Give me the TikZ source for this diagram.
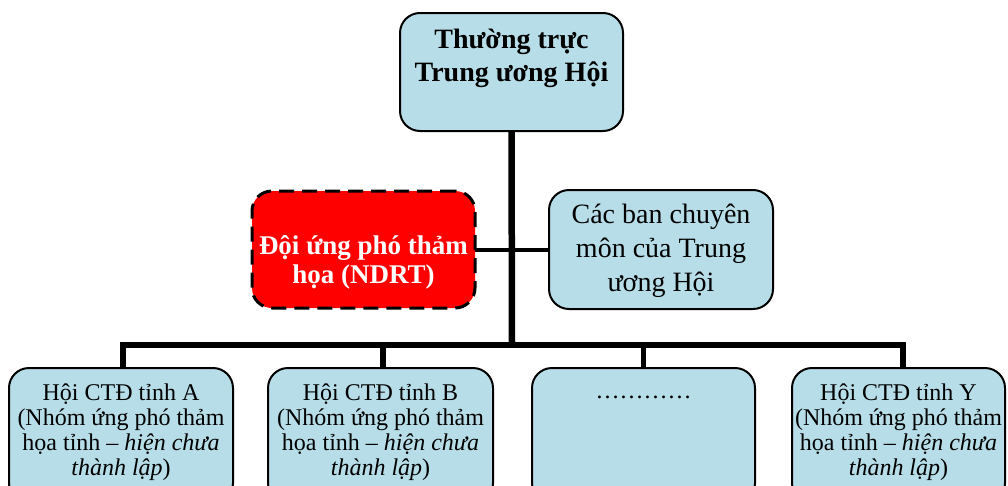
\documentclass[tikz,border=0pt]{standalone}
\usepackage{fontspec}
\setmainfont{Liberation Serif}
\usetikzlibrary{backgrounds}
\definecolor{boxblue}{HTML}{B7DEE8}
\definecolor{ndrtred}{HTML}{FF0000}
\newcommand{\boxtext}[4]{\parbox[c][#1][t]{#2}{\centering\rule{0pt}{#3}#4\par}}
\tikzset{
  x=1pt, y=-1pt,
  orgbox/.style={draw, line width=2pt, rounded corners=20pt, fill=boxblue,
    inner sep=0pt, outer sep=0pt, anchor=north west},
  ndrtbox/.style={orgbox, fill=ndrtred, line width=3pt, dash pattern=on 15pt off 8pt},
  trunkline/.style={line width=6.5pt},
  busline/.style={line width=5.5pt, line join=miter},
  sideline/.style={line width=4pt}
}
\begin{document}
\begin{tikzpicture}
\useasboundingbox (0,0) rectangle (1008,485);
\clip (0,0) rectangle (1008,485);

\node[orgbox] (top) at (400,13) {\boxtext{118pt}{223pt}{35pt}{\fontsize{28}{33}\selectfont\bfseries Thường trực\\Trung ương Hội}};

\node[ndrtbox] (ndrt) at (252,191) {\boxtext{117pt}{223pt}{63pt}{\color{white}\fontsize{27}{29}\selectfont\bfseries Đội ứng phó thảm\\họa (NDRT)}};

\node[orgbox] (ban) at (549,190) {\boxtext{119pt}{224pt}{33pt}{\fontsize{28}{34}\selectfont Các ban chuyên\\môn của Trung\\ương Hội}};

\node[orgbox] (A) at (9,368) {\boxtext{135pt}{224pt}{32pt}{\fontsize{24}{25}\selectfont Hội CTĐ tỉnh A\\(Nhóm ứng phó thảm\\họa tỉnh – \textit{hiện chưa}\\\textit{thành lập})}};

\node[orgbox] (B) at (268,368) {\boxtext{135pt}{225pt}{32pt}{\fontsize{24}{25}\selectfont Hội CTĐ tỉnh B\\(Nhóm ứng phó thảm\\họa tỉnh – \textit{hiện chưa}\\\textit{thành lập})}};

\node[orgbox] (dots) at (532,368) {\boxtext{135pt}{223pt}{30pt}{\fontsize{24}{25}\selectfont …………}};

\node[orgbox] (Y) at (792,368) {\boxtext{135pt}{213pt}{32pt}{\fontsize{24}{25}\selectfont Hội CTĐ tỉnh Y\\(Nhóm ứng phó thảm\\họa tỉnh – \textit{hiện chưa}\\\textit{thành lập})}};

\coordinate (bus) at (512,345);
\coordinate (dA) at ([xshift=2pt]A.north);
\coordinate (dB) at ([xshift=2.5pt]B.north);
\coordinate (dD) at (dots.north);
\coordinate (dY) at ([xshift=4.5pt]Y.north);

\begin{scope}[on background layer]
\draw[trunkline] (top.south) -- (bus);
\draw[sideline] (ndrt.east) -- (ban.west);
\draw[busline] (dA) -- (dA |- bus) -- (dY |- bus) -- (dY);
\draw[busline] (dB) -- (dB |- bus);
\draw[busline] (dD) -- (dD |- bus);
\end{scope}
\end{tikzpicture}
\end{document}
